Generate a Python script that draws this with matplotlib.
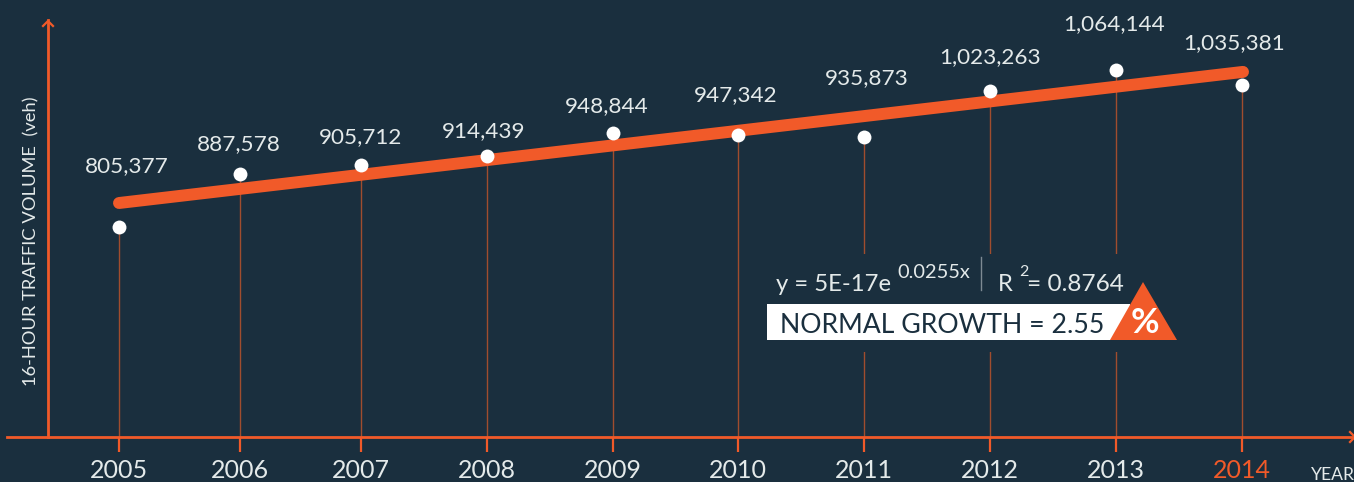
import matplotlib
matplotlib.use('Agg')
import matplotlib.pyplot as plt
from matplotlib.patches import Polygon, Rectangle
from matplotlib.transforms import Affine2D

BG = '#1a2f3e'
ORANGE = '#f15a29'
STEM = '#a04d2e'
TEXT = '#e4eaea'

years = ['2005', '2006', '2007', '2008', '2009', '2010', '2011', '2012', '2013', '2014']
value_labels = ['805,377', '887,578', '905,712', '914,439', '948,844',
                '947,342', '935,873', '1,023,263', '1,064,144', '1,035,381']
# heights as drawn in the picture (they do not follow the printed labels exactly)
point_values = [805377, 892700, 907500, 922300, 960200,
                957000, 953700, 1029500, 1064100, 1039400]
trend_values = [844900, 1060900]

# the years are not evenly spaced in the picture, x axis is in image pixels
x_pos = [119, 240, 361, 487, 613, 738, 864, 990, 1116, 1242]
trend_x = [119, 1243]
label_offsets = [(8, 61), (-1, 30), (0, 28), (-3, 25), (-6, 27),
                 (-2, 40), (3, 59), (0, 34), (-2, 46), (-8, 42)]

fig = plt.figure(figsize=(13.54, 4.82), dpi=100, facecolor=BG)
plt.rcParams['font.family'] = ['Lato', 'DejaVu Sans']
ax = fig.add_axes([7 / 1354, 45 / 482, 1347 / 1354, 417 / 482], facecolor='none')
ax.set_xlim(7, 1354)
ax.set_ylim(459400, 1146400)

# image pixel coordinates for the annotation furniture
px = Affine2D().scale(1, -1).translate(0, 482)

for s in ['top', 'right']:
    ax.spines[s].set_visible(False)
ax.spines['bottom'].set_color(ORANGE)
ax.spines['bottom'].set_linewidth(2)
ax.spines['left'].set_color(ORANGE)
ax.spines['left'].set_linewidth(2)
ax.spines['left'].set_position(('data', 48))
ax.set_yticks([])
ax.set_xticks(x_pos)
ax.set_xticklabels(years, fontsize=18, color=TEXT)
ax.get_xticklabels()[-1].set_color(ORANGE)
ax.tick_params(axis='x', length=11, width=1.6, color=ORANGE, pad=4.5)

ax.vlines(x_pos, 459400, point_values, color=STEM, linewidth=1, zorder=1)

# gap in the stems behind the equation
fig.add_artist(Rectangle((760, 254), 420, 98, transform=px, facecolor=BG, edgecolor='none', zorder=2))

ax.plot(trend_x, trend_values, color=ORANGE, linewidth=8.6, solid_capstyle='round', zorder=3)
ax.plot(x_pos, point_values, linestyle='none', marker='o', markersize=10,
        color='white', markeredgecolor='none', zorder=4)

for x, v, lab, off in zip(x_pos, point_values, value_labels, label_offsets):
    ax.annotate(lab, (x, v), xytext=(off[0] * 0.72, off[1] * 0.72), textcoords='offset points',
                ha='center', va='center', fontsize=16.2, color=TEXT, zorder=5)

# axis arrow heads
fig.add_artist(plt.Line2D([43, 48, 53], [26, 21, 26], transform=px, color=ORANGE, linewidth=1.6))
fig.add_artist(plt.Line2D([1350, 1355, 1350], [432, 437, 442], transform=px, color=ORANGE, linewidth=1.6))

fig.text(31, 386, '16-HOUR TRAFFIC VOLUME  (veh)', transform=px, rotation=90, ha='center', va='bottom',
         fontsize=13.2, color=TEXT)
fig.text(1311, 480, 'YEAR', transform=px, ha='left', va='baseline', fontsize=12.6, color=TEXT)

# equation and growth box
fig.text(776, 291, 'y = 5E-17e', transform=px, fontsize=17.2, color=TEXT, va='baseline', zorder=6)
fig.text(897, 278, '0.0255x', transform=px, fontsize=14.4, color=TEXT, va='baseline', zorder=6)
fig.add_artist(plt.Line2D([981, 981], [257, 290], transform=px, color='#7d8a93', linewidth=1, zorder=6))
fig.text(998, 291, 'R', transform=px, fontsize=17.2, color=TEXT, va='baseline', zorder=6)
fig.text(1019, 276, '2', transform=px, fontsize=11.5, color=TEXT, va='baseline', zorder=6)
fig.text(1027, 291, '= 0.8764', transform=px, fontsize=17.6, color=TEXT, va='baseline', zorder=6)

fig.add_artist(Rectangle((767, 304), 363, 36, transform=px, facecolor='white', edgecolor='none', zorder=6))
fig.text(780, 333, 'NORMAL GROWTH = 2.55', transform=px, fontsize=19.2, color=BG, va='baseline', zorder=7)
fig.add_artist(Polygon([(1143, 282), (1110, 340), (1177, 340)], closed=True, transform=px,
                       facecolor=ORANGE, edgecolor='none', zorder=7))
fig.text(1145, 323, '%', transform=px, fontsize=25, fontweight='bold', color='white',
         ha='center', va='center', zorder=8)

fig.savefig('out.png', dpi=100, facecolor=BG)
